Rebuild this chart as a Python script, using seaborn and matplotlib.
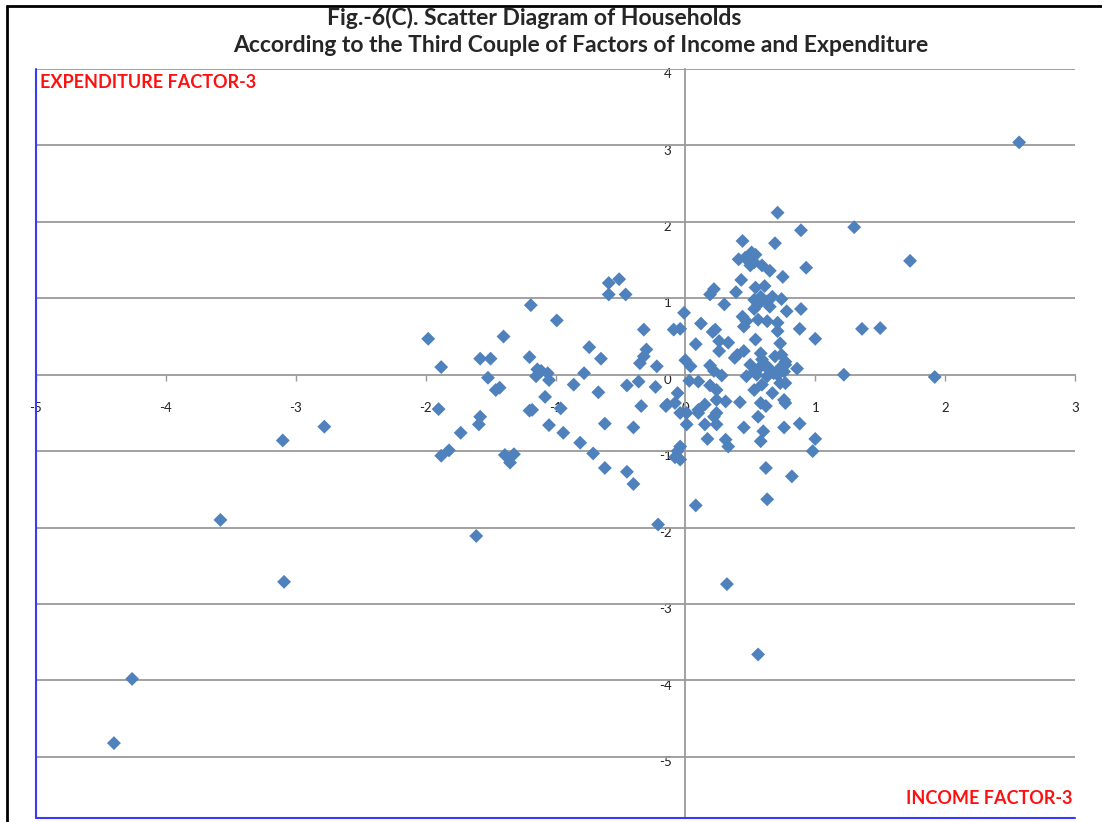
import numpy as np
import pandas as pd
import seaborn as sns
import matplotlib.pyplot as plt
import matplotlib.transforms as mtransforms
from matplotlib.lines import Line2D

# household factor scores (income factor-3, expenditure factor-3)
income_f3 = [
    2.57, -4.26, -4.40, -3.58, -3.09, -3.10, -2.78, 1.92, 1.73, 1.50, 1.36, 1.30, 1.22,
    -1.61, 0.32, 0.56, 0.08, -0.21, 0.63, 0.82, 0.62,
    -1.98, -1.88, -1.58, -1.50, -1.40, -1.52, -1.46, -1.43, -1.19, -0.99, -1.20, -1.14,
    -1.11, -1.15, -1.06, -1.05, -1.08, -0.96, -1.20, -1.18, -1.05, -0.94, -1.90, -1.58,
    -1.59, -1.73, -1.88, -1.82, -1.39, -1.32, -1.35, -0.86, -0.78, -0.74, -0.65, -0.67,
    -0.81, -0.71, -0.62, -0.45, -0.40, -0.62, -0.40, -0.45, -0.36, -0.34, -0.23, -0.15,
    -0.22, -0.32, -0.30, -0.32, -0.35, -0.59, -0.46, -0.59, -0.51, -0.09, -0.04, -0.01,
    -0.14, -0.08, -0.06, -0.04, 0.01, 0.01, -0.06, -0.04, -0.08, -0.04,
    0.08, 0.12, 0.00, 0.04, 0.19, 0.22, 0.23, 0.21, 0.30, 0.26, 0.33, 0.26, 0.19, 0.22, 0.28,
    0.41, 0.46, 0.51, 0.53, 0.50, 0.59, 0.65, 0.75, 0.93, 0.43, 0.39, 0.54, 0.61, 0.53,
    0.58, 0.63, 0.67, 0.74, 0.78, 0.89, 0.53, 0.56, 0.65,
    0.44, 0.47, 0.45, 0.56, 0.63, 0.71, 0.71, 0.88, 1.00, 0.54, 0.73, 0.40, 0.45, 0.38,
    0.58, 0.59, 0.69, 0.74, 0.77, 0.77, 0.50, 0.53, 0.63, 0.68, 0.86, 0.73, 0.47, 0.55,
    0.63, 0.71, 0.73, 0.77,
    0.71, 0.89, 0.44, 0.69, 0.54,
    0.03, 0.10, 0.19, 0.24,
    0.15, 0.10, 0.10, 0.24, 0.31, 0.24, 0.22, 0.15, 0.24, 0.17, 0.31, 0.33, 0.42, 0.45,
    0.58, 0.62, 0.56, 0.53, 0.59, 0.67, 0.76, 0.77, 0.60, 0.58, 0.76, 0.88, 1.00, 0.98,
    0.58, 0.64, 0.76,
]
expend_f3 = [
    3.04, -3.98, -4.82, -1.90, -2.71, -0.86, -0.68, -0.03, 1.49, 0.61, 0.60, 1.93, 0.00,
    -2.11, -2.74, -3.66, -1.71, -1.96, -1.63, -1.33, -1.22,
    0.47, 0.10, 0.21, 0.21, 0.50, -0.04, -0.20, -0.17, 0.91, 0.71, 0.23, 0.07,
    0.05, -0.02, 0.02, -0.07, -0.29, -0.44, -0.47, -0.46, -0.66, -0.76, -0.45, -0.55,
    -0.65, -0.76, -1.06, -0.99, -1.05, -1.04, -1.15, -0.13, 0.02, 0.36, 0.21, -0.23,
    -0.89, -1.03, -1.22, -1.27, -1.43, -0.64, -0.69, -0.14, -0.09, -0.41, -0.16, -0.41,
    0.11, 0.59, 0.33, 0.24, 0.15, 1.05, 1.05, 1.20, 1.25, 0.59, 0.60, 0.81,
    -0.39, -0.37, -0.24, -0.50, -0.50, -0.65, -1.00, -0.94, -1.08, -1.11,
    0.40, 0.67, 0.19, 0.11, 1.05, 1.12, 0.59, 0.56, 0.92, 0.44, 0.42, 0.31, 0.12, 0.05, -0.01,
    1.51, 1.53, 1.60, 1.47, 1.43, 1.43, 1.36, 1.28, 1.40, 1.24, 1.08, 1.14, 1.16, 0.98,
    1.02, 0.96, 1.02, 0.99, 0.83, 0.86, 0.86, 0.92, 0.89,
    0.76, 0.70, 0.63, 0.72, 0.70, 0.68, 0.57, 0.60, 0.47, 0.46, 0.41, 0.26, 0.31, 0.22,
    0.28, 0.20, 0.24, 0.26, 0.17, 0.13, 0.13, 0.04, 0.11, 0.02, 0.08, 0.09, -0.02, 0.00,
    -0.02, 0.00, -0.11, -0.11,
    2.12, 1.89, 1.75, 1.72, 1.57,
    -0.08, -0.09, -0.14, -0.20,
    -0.39, -0.46, -0.50, -0.33, -0.35, -0.50, -0.55, -0.65, -0.65, -0.84, -0.85, -0.94, -0.36, -0.69,
    -0.37, -0.41, -0.55, -0.20, -0.13, -0.24, -0.33, -0.37, -0.74, -0.87, -0.69, -0.64, -0.84, -1.00,
    0.11, 0.07, 0.04,
]
x_ticks = [-5, -4, -3, -2, -1, 0, 1, 2, 3]
y_ticks = [-5, -4, -3, -2, -1, 0, 1, 2, 3, 4]

df = pd.DataFrame({'income': income_f3, 'expend': expend_f3})

sns.set_style('white')
plt.rcParams['font.family'] = ['Lato', 'DejaVu Sans']
plt.rcParams['axes.unicode_minus'] = False

fig = plt.figure(figsize=(11.02, 8.22), dpi=100)
ax = fig.add_axes([36 / 1102, 4 / 822, 1039 / 1102, 749 / 822])

grey = '#9a9a9a'
for yv in y_ticks:
    if yv != 0:
        ax.axhline(yv, color=grey, lw=1.3, zorder=1)

sns.scatterplot(data=df, x='income', y='expend', marker='D', s=50,
                color='#4F81BD', edgecolor='none', linewidth=0, ax=ax, zorder=3)

ax.set_xlim(-5, 3)
ax.set_ylim(-5.8, 4)
ax.set_xticks(x_ticks)
ax.set_yticks(y_ticks)
ax.set_xticklabels([str(t) for t in x_ticks])
ax.set_yticklabels([str(t) for t in y_ticks])
ax.set_xlabel('')
ax.set_ylabel('')

# axes crossing at the origin
ax.spines['left'].set_position(('data', 0))
ax.spines['bottom'].set_position(('data', 0))
for side in ['left', 'bottom']:
    ax.spines[side].set_color(grey)
    ax.spines[side].set_linewidth(1.3)
    ax.spines[side].set_zorder(2)
ax.spines['top'].set_visible(False)
ax.spines['right'].set_visible(False)
ax.tick_params(axis='x', direction='out', length=4, width=1, color=grey, pad=16, labelsize=9.5)
ax.tick_params(axis='y', direction='out', length=0, width=1, color=grey, pad=10, labelsize=9.5)
ax.tick_params(bottom=True, left=True)
# nudge y labels a little below the gridlines so the minus signs stay visible
shift = mtransforms.ScaledTranslation(0, -3 / 72, fig.dpi_scale_trans)
for lab in ax.get_yticklabels():
    lab.set_color('#222222')
    lab.set_transform(lab.get_transform() + shift)
for lab in ax.get_xticklabels():
    lab.set_color('#222222')

# blue frame lines on the left and bottom of the plot area
ax.plot([0, 0], [0, 1], transform=ax.transAxes, color='#3a3aff', lw=1.5, clip_on=False, zorder=4)
ax.plot([0, 1], [0, 0], transform=ax.transAxes, color='#3a3aff', lw=1.5, clip_on=False, zorder=4)

ax.text(0.004, 0.9826, 'EXPENDITURE FACTOR-3', transform=ax.transAxes, color='#ff1010',
        fontsize=13, fontweight='bold', ha='left', va='center')
ax.text(0.998, 0.0254, 'INCOME FACTOR-3', transform=ax.transAxes, color='#ff1010',
        fontsize=13, fontweight='bold', ha='right', va='center')

fig.text(534 / 1102, 1 - 18 / 822, 'Fig.-6(C). Scatter Diagram of Households',
         ha='center', va='center', fontsize=16.5, fontweight='bold')
fig.text(581 / 1102, 1 - 46 / 822, 'According to the Third Couple of Factors of Income and Expenditure',
         ha='center', va='center', fontsize=16.5, fontweight='bold')

# outer chart border (top and left)
fig.add_artist(Line2D([7 / 1102, 1], [1 - 6 / 822, 1 - 6 / 822], color='black', lw=2))
fig.add_artist(Line2D([7 / 1102, 7 / 1102], [0, 1 - 6 / 822], color='black', lw=2))

fig.savefig('out.png', dpi=100)
